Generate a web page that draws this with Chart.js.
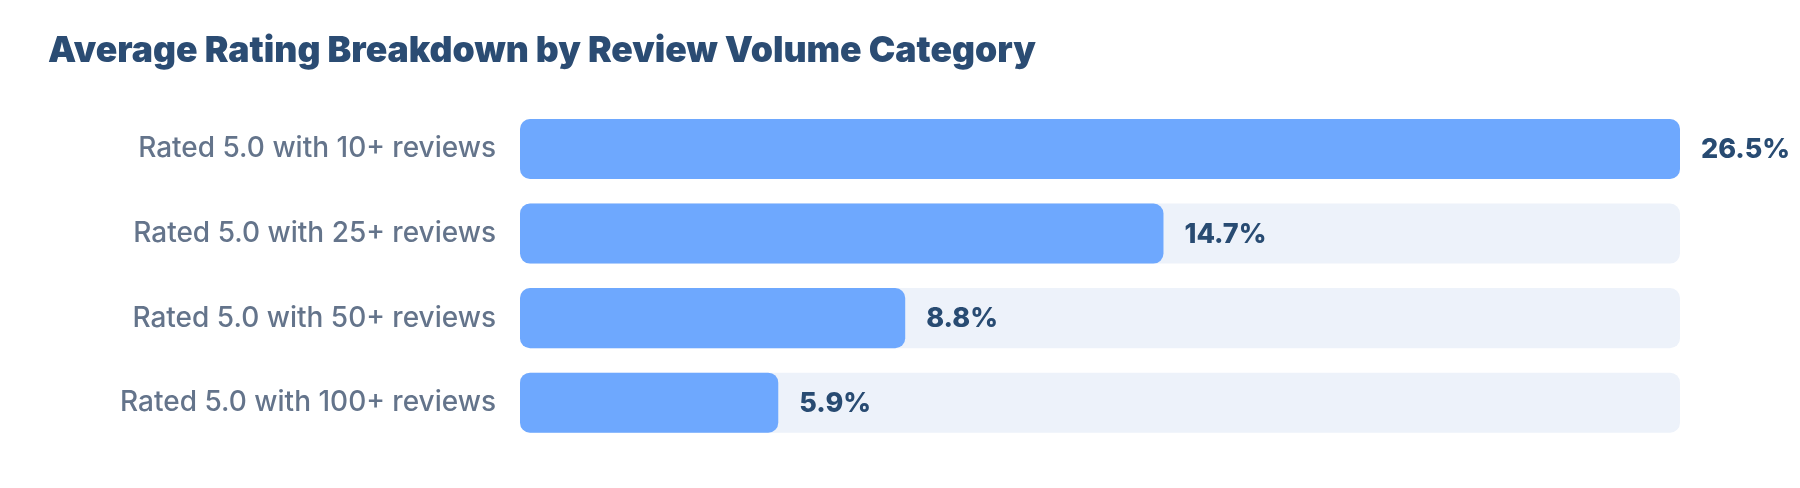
<!DOCTYPE html>
<html>
<head>
<meta charset="utf-8">
<script src="https://cdn.jsdelivr.net/npm/chart.js@4.4.1/dist/chart.umd.min.js"></script>
<style>
  html, body { margin: 0; padding: 0; background: #fff; }
  #wrap { width: 1800px; height: 488px; }
</style>
</head>
<body>
<div id="wrap"><canvas id="ratingChart"></canvas></div>
<script>
const categories = ['Rated 5.0 with 10+ reviews', 'Rated 5.0 with 25+ reviews', 'Rated 5.0 with 50+ reviews', 'Rated 5.0 with 100+ reviews'];
const shareValues = [26.5, 14.7, 8.8, 5.9];
const scaleMax = 26.5;

// draws "xx.x%" just right of each filled bar
const valueLabels = {
    id: 'valueLabels',
    afterDatasetsDraw(chart) {
        const ctx = chart.ctx;
        const meta = chart.getDatasetMeta(0);
        ctx.save();
        ctx.font = '800 27px Inter';
        ctx.fillStyle = '#284b72';
        ctx.textBaseline = 'middle';
        ctx.textAlign = 'left';
        meta.data.forEach(function (bar, i) {
            ctx.fillText(shareValues[i].toFixed(1) + '%', bar.x + 21, bar.y + 1);
        });
        ctx.restore();
    }
};

document.addEventListener('DOMContentLoaded', function () {
    new Chart(document.getElementById('ratingChart').getContext('2d'), {
        type: 'bar',
        data: {
            labels: categories,
            datasets: [{
                data: shareValues,
                backgroundColor: '#6ea8fe',
                borderRadius: 10,
                borderSkipped: false,
                grouped: false,
                order: 0,
                barPercentage: 0.71,
                categoryPercentage: 1
            }, {
                data: categories.map(function () { return scaleMax; }),
                backgroundColor: '#edf2fa',
                borderRadius: 10,
                borderSkipped: false,
                grouped: false,
                order: 1,
                barPercentage: 0.71,
                categoryPercentage: 1
            }]
        },
        plugins: [valueLabels],
        options: {
            indexAxis: 'y',
            responsive: true,
            maintainAspectRatio: false,
            animation: false,
            layout: { padding: { left: 48, right: 120, top: 0, bottom: 43 } },
            plugins: {
                legend: { display: false },
                tooltip: { enabled: false },
                title: {
                    display: true,
                    text: 'Average Rating Breakdown by Review Volume Category',
                    align: 'start',
                    color: '#2b4c73',
                    font: { family: 'Inter', size: 35.6, weight: '900' },
                    padding: { top: 30, bottom: 34 }
                }
            },
            scales: {
                x: {
                    display: false,
                    min: 0,
                    max: scaleMax
                },
                y: {
                    grid: { display: false },
                    border: { display: false },
                    ticks: {
                        color: '#64748b',
                        font: { family: 'Inter', size: 28, weight: '500' },
                        padding: 16
                    },
                    afterFit: function (scale) { scale.width = 472; }
                }
            }
        }
    });
});
</script>
</body>
</html>
